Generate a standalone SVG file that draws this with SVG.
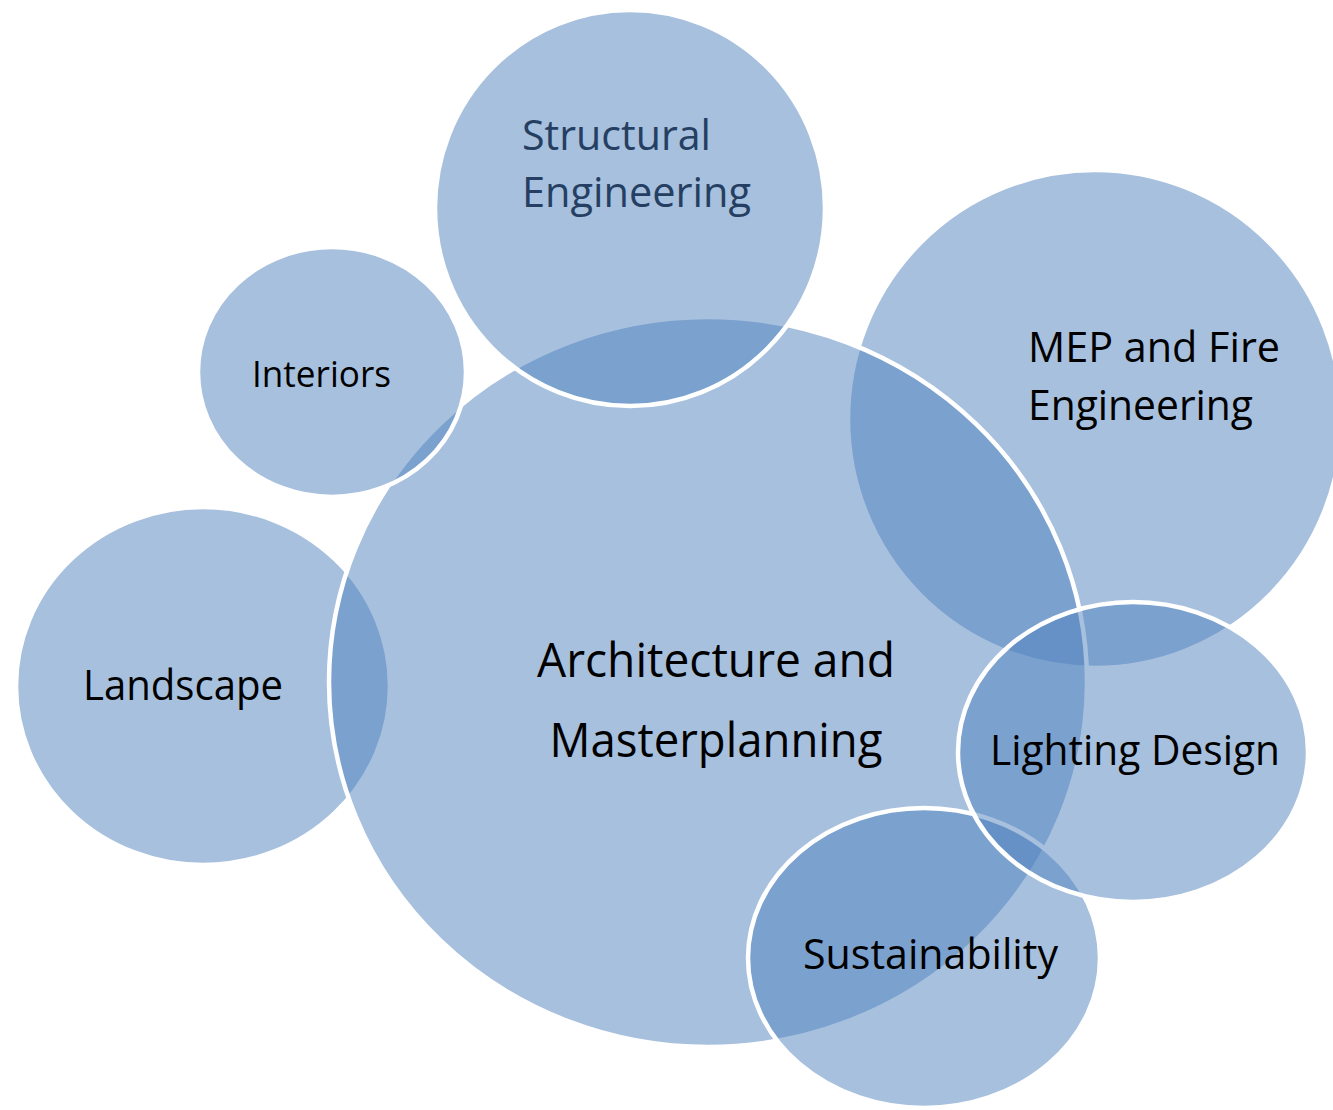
<svg xmlns="http://www.w3.org/2000/svg" width="1333" height="1110" viewBox="0 0 1333 1110">
  <style>
    .bubble { fill: #4f81bd; fill-opacity: 0.5; stroke: #ffffff; stroke-width: 4.5; }
    .lbl { font-family: "Open Sans", "Noto Sans", "Liberation Sans", sans-serif; font-size: 42px; fill: #000000; }
    .main { font-size: 48px; text-anchor: middle; }
    .small { font-size: 36px; }
    .dark { fill: #253f62; }
  </style>
  <rect width="1333" height="1110" fill="#ffffff"/>
  <g id="node-mep">
    <ellipse class="bubble" cx="1095" cy="419" rx="247" ry="249"/>
    <text class="lbl" x="1028" y="362" textLength="252" lengthAdjust="spacingAndGlyphs">MEP and Fire</text>
    <text class="lbl" x="1028" y="420" textLength="225" lengthAdjust="spacingAndGlyphs">Engineering</text>
  </g>
  <g id="node-landscape">
    <ellipse class="bubble" cx="203" cy="686" rx="187" ry="179"/>
    <text class="lbl" x="83" y="700" textLength="200" lengthAdjust="spacingAndGlyphs">Landscape</text>
  </g>
  <g id="node-architecture">
    <ellipse class="bubble" cx="708" cy="682" rx="379" ry="365"/>
    <text class="lbl main" x="716" y="677" textLength="358" lengthAdjust="spacingAndGlyphs">Architecture and</text>
    <text class="lbl main" x="716" y="757" textLength="333" lengthAdjust="spacingAndGlyphs">Masterplanning</text>
  </g>
  <g id="node-structural">
    <ellipse class="bubble" cx="630" cy="208" rx="195" ry="198"/>
    <text class="lbl dark" x="522" y="150" textLength="189" lengthAdjust="spacingAndGlyphs">Structural</text>
    <text class="lbl dark" x="522" y="207" textLength="229" lengthAdjust="spacingAndGlyphs">Engineering</text>
  </g>
  <g id="node-interiors">
    <ellipse class="bubble" cx="332" cy="372" rx="134" ry="125"/>
    <text class="lbl small" x="252" y="387" textLength="139" lengthAdjust="spacingAndGlyphs">Interiors</text>
  </g>
  <g id="node-sustainability">
    <ellipse class="bubble" cx="924" cy="958" rx="176" ry="150"/>
    <text class="lbl" x="803" y="969" textLength="255" lengthAdjust="spacingAndGlyphs">Sustainability</text>
  </g>
  <g id="node-lighting">
    <ellipse class="bubble" cx="1133" cy="752" rx="175" ry="150"/>
    <text class="lbl" x="990" y="765" textLength="290" lengthAdjust="spacingAndGlyphs">Lighting Design</text>
  </g>
  <g id="connectors"/>
</svg>
